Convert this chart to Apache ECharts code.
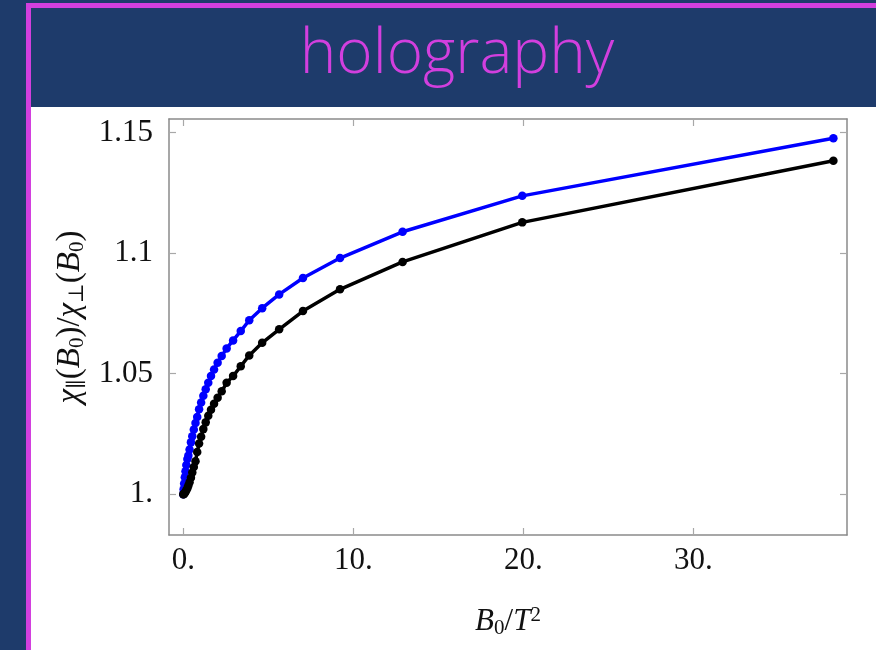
<!DOCTYPE html>
<html>
<head>
<meta charset="utf-8">
<script src="https://cdn.jsdelivr.net/npm/echarts@6/dist/echarts.min.js"></script>
<style>
  html, body { margin: 0; padding: 0; background: #1e3b6b; }
  #chart { width: 876px; height: 650px; }
</style>
</head>
<body>
<div id="chart"></div>
<script>
// B0/T^2 values (shared by both curves)
var xs = [0, 0.02, 0.05, 0.09, 0.13, 0.18, 0.24, 0.3, 0.37, 0.45, 0.53, 0.62, 0.72, 0.82, 0.93,
  1.05, 1.18, 1.32, 1.47, 1.63, 1.81, 2.02, 2.26, 2.55, 2.93, 3.38, 3.88, 4.64, 5.64, 7.04,
  9.22, 12.9, 19.94, 38.24];
var blueY = [1.0, 1.002, 1.0044, 1.007, 1.0095, 1.0121, 1.0146, 1.016, 1.0185, 1.0215, 1.024,
  1.0268, 1.0295, 1.032, 1.0352, 1.038, 1.0408, 1.0435, 1.0462, 1.049, 1.0517, 1.0545, 1.0573,
  1.0605, 1.0638, 1.0677, 1.0722, 1.0772, 1.0829, 1.0897, 1.098, 1.1089, 1.1238, 1.1477];
var blackY = [1.0, 1.0, 1.0002, 1.0005, 1.001, 1.0016, 1.0025, 1.0036, 1.005, 1.0068, 1.009,
  1.0113, 1.0137, 1.0175, 1.021, 1.0238, 1.027, 1.0298, 1.0325, 1.035, 1.0375, 1.04, 1.0427,
  1.0462, 1.049, 1.0531, 1.0576, 1.0628, 1.0684, 1.076, 1.085, 1.0964, 1.1128, 1.1384];
var xTicks = [0, 10, 20, 30];
var xTickLabels = ['0.', '10.', '20.', '30.'];
var yTicks = [1, 1.05, 1.1, 1.15];
var yTickLabels = ['1.', '1.05', '1.1', '1.15'];

var serif = '"Liberation Serif", "DejaVu Serif", serif';
var magenta = '#d23fde';

function pairs(ys) {
  return xs.map(function (x, i) { return [x, ys[i]]; });
}
function lookup(ticks, labels, v) {
  for (var i = 0; i < ticks.length; i++) {
    if (Math.abs(ticks[i] - v) < 1e-6) return labels[i];
  }
  return '';
}

var frame = { show: true, onZero: false, lineStyle: { color: '#8a8a8a', width: 1.5 } };
var tick = { show: true, inside: true, length: 7, lineStyle: { color: '#a8a8a8', width: 1.2 } };

var chart = echarts.init(document.getElementById('chart'));
chart.setOption({
  backgroundColor: '#1e3b6b',
  animation: false,
  graphic: [
    { type: 'rect', shape: { x: 31, y: 107, width: 845, height: 543 }, style: { fill: '#ffffff' }, z: -10 },
    { type: 'rect', shape: { x: 26, y: 3, width: 850, height: 5 }, style: { fill: magenta }, z: -10 },
    { type: 'rect', shape: { x: 26, y: 3, width: 5, height: 647 }, style: { fill: magenta }, z: -10 },
    {
      type: 'text', x: 457, y: 55,
      style: {
        text: 'holography', fill: magenta, align: 'center', verticalAlign: 'middle',
        font: '300 62px "Open Sans", sans-serif'
      }
    },
    {
      type: 'text', x: 508, y: 622,
      style: {
        text: '{i|B}{s|0}{m|/}{i|T}{p|2}', align: 'center', verticalAlign: 'middle',
        rich: {
          m: { fontFamily: serif, fontSize: 31, lineHeight: 34, verticalAlign: 'middle', fill: '#111' },
          i: { fontFamily: serif, fontSize: 31, fontStyle: 'italic', lineHeight: 34, verticalAlign: 'middle', fill: '#111' },
          s: { fontFamily: serif, fontSize: 21, lineHeight: 16, verticalAlign: 'bottom', fill: '#111' },
          p: { fontFamily: serif, fontSize: 21, lineHeight: 16, verticalAlign: 'top', fill: '#111' }
        }
      }
    },
    {
      type: 'text', x: 70, y: 317, rotation: Math.PI / 2,
      style: {
        text: '{i|χ}{s|∥}{m|(}{i|B}{s|0}{m|)/}{i|χ}{s|⊥}{m|(}{i|B}{s|0}{m|)}',
        align: 'center', verticalAlign: 'middle',
        rich: {
          m: { fontFamily: serif, fontSize: 33, lineHeight: 36, verticalAlign: 'middle', fill: '#111' },
          i: { fontFamily: serif, fontSize: 33, fontStyle: 'italic', lineHeight: 36, verticalAlign: 'middle', fill: '#111' },
          s: { fontFamily: serif, fontSize: 21, lineHeight: 17, verticalAlign: 'bottom', fill: '#111' }
        }
      }
    }
  ],
  grid: { left: 169, right: 29, top: 119, bottom: 115, containLabel: false },
  xAxis: [
    {
      type: 'value', min: -0.84, max: 39.04, position: 'bottom',
      axisLine: frame, axisTick: Object.assign({ customValues: xTicks }, tick), splitLine: { show: false },
      axisLabel: {
        customValues: xTicks, margin: 10, fontFamily: serif, fontSize: 31, color: '#111',
        formatter: function (v) { return lookup(xTicks, xTickLabels, v); }
      }
    },
    {
      type: 'value', min: -0.84, max: 39.04, position: 'top',
      axisLine: frame, axisTick: Object.assign({ customValues: xTicks }, tick), splitLine: { show: false },
      axisLabel: { show: false }
    }
  ],
  yAxis: [
    {
      type: 'value', min: 0.98306, max: 1.1557, position: 'left',
      axisLine: frame, axisTick: Object.assign({ customValues: yTicks }, tick), splitLine: { show: false },
      axisLabel: {
        customValues: yTicks, margin: 16, fontFamily: serif, fontSize: 31, color: '#111',
        formatter: function (v) { return lookup(yTicks, yTickLabels, v); }
      }
    },
    {
      type: 'value', min: 0.98306, max: 1.1557, position: 'right',
      axisLine: frame, axisTick: Object.assign({ customValues: yTicks }, tick), splitLine: { show: false },
      axisLabel: { show: false }
    }
  ],
  series: [
    {
      type: 'line', data: pairs(blueY), xAxisIndex: 0, yAxisIndex: 0,
      symbol: 'circle', symbolSize: 8.5, showSymbol: true,
      lineStyle: { color: '#0000ff', width: 3.5 }, itemStyle: { color: '#0000ff' }
    },
    {
      type: 'line', data: pairs(blackY), xAxisIndex: 0, yAxisIndex: 0,
      symbol: 'circle', symbolSize: 8.5, showSymbol: true,
      lineStyle: { color: '#000000', width: 3.5 }, itemStyle: { color: '#000000' }
    }
  ]
});
</script>
</body>
</html>
